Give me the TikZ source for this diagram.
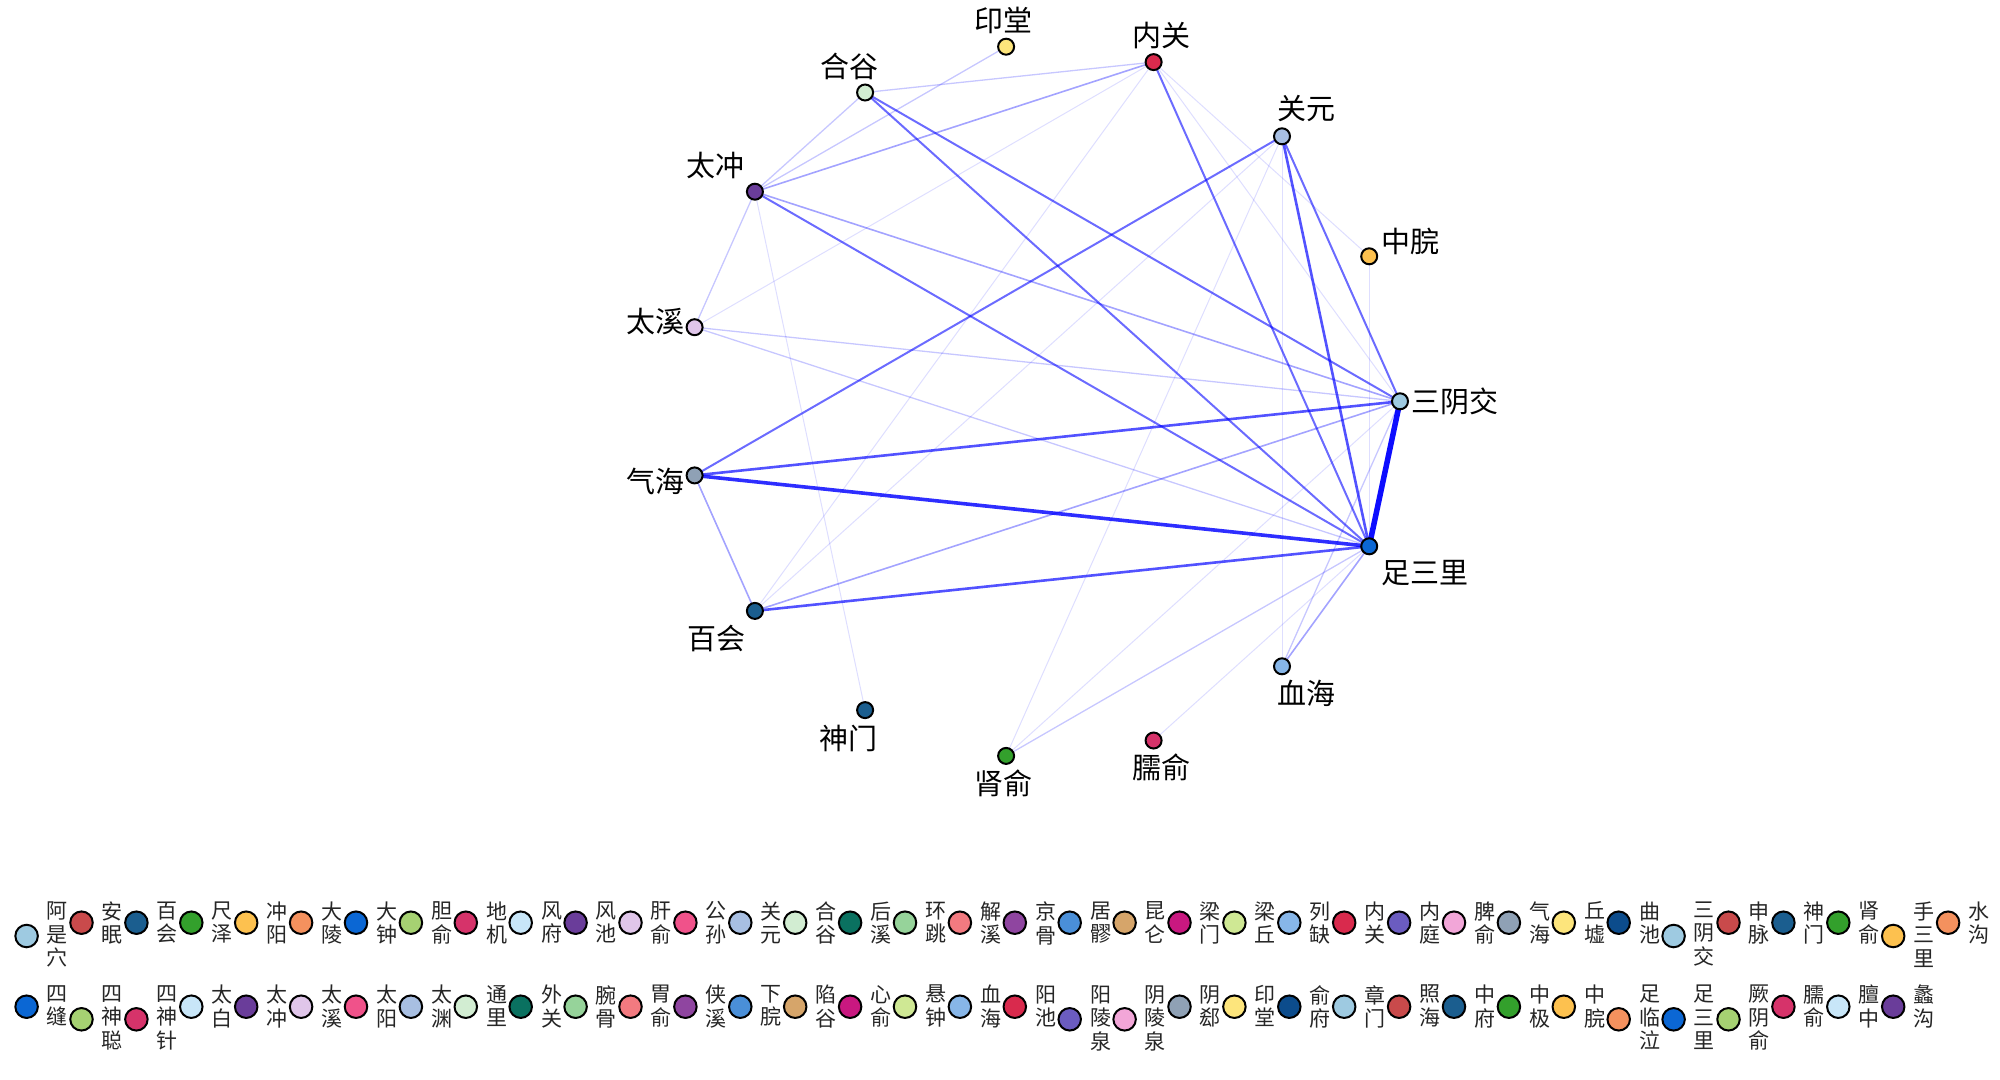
\documentclass[tikz,border=0pt]{standalone}
\usepackage{fontspec}
\newfontfamily\cjk{Noto Sans CJK SC}
\definecolor{p1}{HTML}{9ECAE1}
\definecolor{p2}{HTML}{C94A4B}
\definecolor{p3}{HTML}{1B5E8F}
\definecolor{p4}{HTML}{33A02C}
\definecolor{p5}{HTML}{FDC14F}
\definecolor{p6}{HTML}{F4915E}
\definecolor{p7}{HTML}{0B67D4}
\definecolor{p8}{HTML}{A6D172}
\definecolor{p9}{HTML}{D6336A}
\definecolor{p10}{HTML}{C8E6F8}
\definecolor{p11}{HTML}{6A3D9A}
\definecolor{p12}{HTML}{E0C6EA}
\definecolor{p13}{HTML}{F0528A}
\definecolor{p14}{HTML}{A8BFE2}
\definecolor{p15}{HTML}{D2EDD2}
\definecolor{p16}{HTML}{0A7160}
\definecolor{p17}{HTML}{96D39A}
\definecolor{p18}{HTML}{F27A80}
\definecolor{p19}{HTML}{8F45A0}
\definecolor{p20}{HTML}{4A8FD8}
\definecolor{p21}{HTML}{D6A56A}
\definecolor{p22}{HTML}{C91880}
\definecolor{p23}{HTML}{CFE894}
\definecolor{p24}{HTML}{87B6E8}
\definecolor{p25}{HTML}{D92A4D}
\definecolor{p26}{HTML}{6B5CC0}
\definecolor{p27}{HTML}{F2A6D8}
\definecolor{p28}{HTML}{8FA1B5}
\definecolor{p29}{HTML}{FDE57C}
\definecolor{p30}{HTML}{0C4C8C}
\definecolor{edgeblue}{HTML}{0000FF}
\pgfdeclarelayer{bg}
\pgfdeclarelayer{edges}
\pgfsetlayers{bg,edges,main}
\tikzset{
  pt/.style={circle, draw=black, line width=2pt, minimum size=16pt, inner sep=0pt},
  lbl/.style={font=\cjk\fontsize{29}{29}\selectfont, inner sep=0pt, text=black},
  key/.style={circle, draw=black, line width=2pt, minimum size=22.5pt, inner sep=0pt},
  klab/.style={font=\cjk\fontsize{21}{23.5}\selectfont, inner sep=0pt, align=center, anchor=north, text=black!85},
  eA/.style={draw=edgeblue, line width=5.5pt, opacity=0.95},
  eB/.style={draw=edgeblue, line width=3.6pt, opacity=0.82},
  eC/.style={draw=edgeblue, line width=2.6pt, opacity=0.68},
  eD/.style={draw=edgeblue, line width=2.0pt, opacity=0.58},
  eE/.style={draw=edgeblue, line width=1.6pt, opacity=0.36},
  eF/.style={draw=edgeblue, line width=1.3pt, opacity=0.22},
  eG/.style={draw=edgeblue, line width=1.0pt, opacity=0.13},
}
\begin{document}
\begin{tikzpicture}[x=1pt,y=-1pt]
\begin{pgfonlayer}{bg}
\fill[white] (0,0) rectangle (2000,1079);
\end{pgfonlayer}
\useasboundingbox (0,0) rectangle (2000,1079);
% graph nodes
\node[pt, fill=p1]  (SYJ) at (1400.0,401.3) {};
\node[pt, fill=p5]  (ZW)  at (1369.2,256.3) {};
\node[pt, fill=p14] (GY)  at (1282.0,136.3) {};
\node[pt, fill=p25] (NG)  at (1153.6,62.1) {};
\node[pt, fill=p29] (YT)  at (1006.1,46.7) {};
\node[pt, fill=p15] (HG)  at (865.1,92.5) {};
\node[pt, fill=p11] (TC)  at (754.9,191.7) {};
\node[pt, fill=p12] (TX)  at (694.6,327.2) {};
\node[pt, fill=p28] (QH)  at (694.6,475.4) {};
\node[pt, fill=p3]  (BH)  at (754.9,610.9) {};
\node[pt, fill=p3]  (SM)  at (865.1,710.1) {};
\node[pt, fill=p4]  (SS)  at (1006.1,755.9) {};
\node[pt, fill=p9]  (NS)  at (1153.6,740.5) {};
\node[pt, fill=p24] (XH)  at (1282.0,666.3) {};
\node[pt, fill=p7]  (ZSL) at (1369.2,546.3) {};
% labels
\node[lbl] (tSYJ) at (1455,401) {三阴交};
\node[lbl] (tZW)  at (1410,241) {中脘};
\node[lbl] (tGY)  at (1306,109) {关元};
\node[lbl] (tNG)  at (1161,36)  {内关};
\node[lbl] (tYT)  at (1003,20)  {印堂};
\node[lbl] (tHG)  at (849,66)   {合谷};
\node[lbl] (tTC)  at (715,166)  {太冲};
\node[lbl] (tTX)  at (655,322)  {太溪};
\node[lbl] (tQH)  at (655,481)  {气海};
\node[lbl] (tBH)  at (716,638)  {百会};
\node[lbl] (tSM)  at (848,738)  {神门};
\node[lbl] (tSS)  at (1003,783) {肾俞};
\node[lbl] (tNS)  at (1161,767) {臑俞};
\node[lbl] (tXH)  at (1306,693) {血海};
\node[lbl] (tZSL) at (1425,573) {足三里};
% edges
\begin{pgfonlayer}{edges}
\draw[eA] (SYJ.center) -- (ZSL.center);
\draw[eB] (QH.center) -- (ZSL.center);
\draw[eC] (QH.center) -- (SYJ.center);
\draw[eC] (BH.center) -- (ZSL.center);
\draw[eC] (GY.center) -- (ZSL.center);
\draw[eD] (GY.center) -- (SYJ.center);
\draw[eD] (GY.center) -- (QH.center);
\draw[eD] (HG.center) -- (ZSL.center);
\draw[eD] (HG.center) -- (SYJ.center);
\draw[eD] (TC.center) -- (ZSL.center);
\draw[eE] (TC.center) -- (SYJ.center);
\draw[eD] (NG.center) -- (ZSL.center);
\draw[eE] (BH.center) -- (SYJ.center);
\draw[eF] (TX.center) -- (SYJ.center);
\draw[eF] (TX.center) -- (ZSL.center);
\draw[eF] (HG.center) -- (TC.center);
\draw[eE] (TC.center) -- (NG.center);
\draw[eF] (HG.center) -- (NG.center);
\draw[eF] (YT.center) -- (TC.center);
\draw[eF] (TC.center) -- (TX.center);
\draw[eG] (TC.center) -- (SM.center);
\draw[eE] (QH.center) -- (BH.center);
\draw[eG] (BH.center) -- (GY.center);
\draw[eG] (BH.center) -- (NG.center);
\draw[eG] (TX.center) -- (NG.center);
\draw[eG] (NG.center) -- (ZW.center);
\draw[eG] (NG.center) -- (SYJ.center);
\draw[eG] (ZW.center) -- (ZSL.center);
\draw[eG] (GY.center) -- (XH.center);
\draw[eE] (XH.center) -- (ZSL.center);
\draw[eF] (XH.center) -- (SYJ.center);
\draw[eF] (SS.center) -- (ZSL.center);
\draw[eG] (SS.center) -- (SYJ.center);
\draw[eG] (SS.center) -- (GY.center);
\draw[eG] (NS.center) -- (ZSL.center);
\end{pgfonlayer}
% legend row 1
\foreach \lab/\col/\n [count=\i from 0] in {阿\\是\\穴/p1/3, 安\\眠/p2/2, 百\\会/p3/2, 尺\\泽/p4/2, 冲\\阳/p5/2, 大\\陵/p6/2, 大\\钟/p7/2, 胆\\俞/p8/2, 地\\机/p9/2, 风\\府/p10/2, 风\\池/p11/2, 肝\\俞/p12/2, 公\\孙/p13/2, 关\\元/p14/2, 合\\谷/p15/2, 后\\溪/p16/2, 环\\跳/p17/2, 解\\溪/p18/2, 京\\骨/p19/2, 居\\髎/p20/2, 昆\\仑/p21/2, 梁\\门/p22/2, 梁\\丘/p23/2, 列\\缺/p24/2, 内\\关/p25/2, 内\\庭/p26/2, 脾\\俞/p27/2, 气\\海/p28/2, 丘\\墟/p29/2, 曲\\池/p30/2, 三\\阴\\交/p1/3, 申\\脉/p2/2, 神\\门/p3/2, 肾\\俞/p4/2, 手\\三\\里/p5/3, 水\\沟/p6/2}{
  \pgfmathsetmacro{\kx}{26.6+54.9*\i}
  \pgfmathsetmacro{\ky}{\n==3 ? 936 : 922.7}
  \node[key, fill=\col] (ka\i) at (\kx,\ky) {};
  \node[klab] (la\i) at (\kx+30.8,901.5) {\lab};
}
% legend row 2
\foreach \lab/\col/\n [count=\i from 0] in {四\\缝/p7/2, 四\\神\\聪/p8/3, 四\\神\\针/p9/3, 太\\白/p10/2, 太\\冲/p11/2, 太\\溪/p12/2, 太\\阳/p13/2, 太\\渊/p14/2, 通\\里/p15/2, 外\\关/p16/2, 腕\\骨/p17/2, 胃\\俞/p18/2, 侠\\溪/p19/2, 下\\脘/p20/2, 陷\\谷/p21/2, 心\\俞/p22/2, 悬\\钟/p23/2, 血\\海/p24/2, 阳\\池/p25/2, 阳\\陵\\泉/p26/3, 阴\\陵\\泉/p27/3, 阴\\郄/p28/2, 印\\堂/p29/2, 俞\\府/p30/2, 章\\门/p1/2, 照\\海/p2/2, 中\\府/p3/2, 中\\极/p4/2, 中\\脘/p5/2, 足\\临\\泣/p6/3, 足\\三\\里/p7/3, 厥\\阴\\俞/p8/3, 臑\\俞/p9/2, 膻\\中/p10/2, 蠡\\沟/p11/2}{
  \pgfmathsetmacro{\kx}{26.6+54.9*\i}
  \pgfmathsetmacro{\ky}{\n==3 ? 1019.3 : 1006.7}
  \node[key, fill=\col] (kb\i) at (\kx,\ky) {};
  \node[klab] (lb\i) at (\kx+30.8,985) {\lab};
}
\end{tikzpicture}
\end{document}
